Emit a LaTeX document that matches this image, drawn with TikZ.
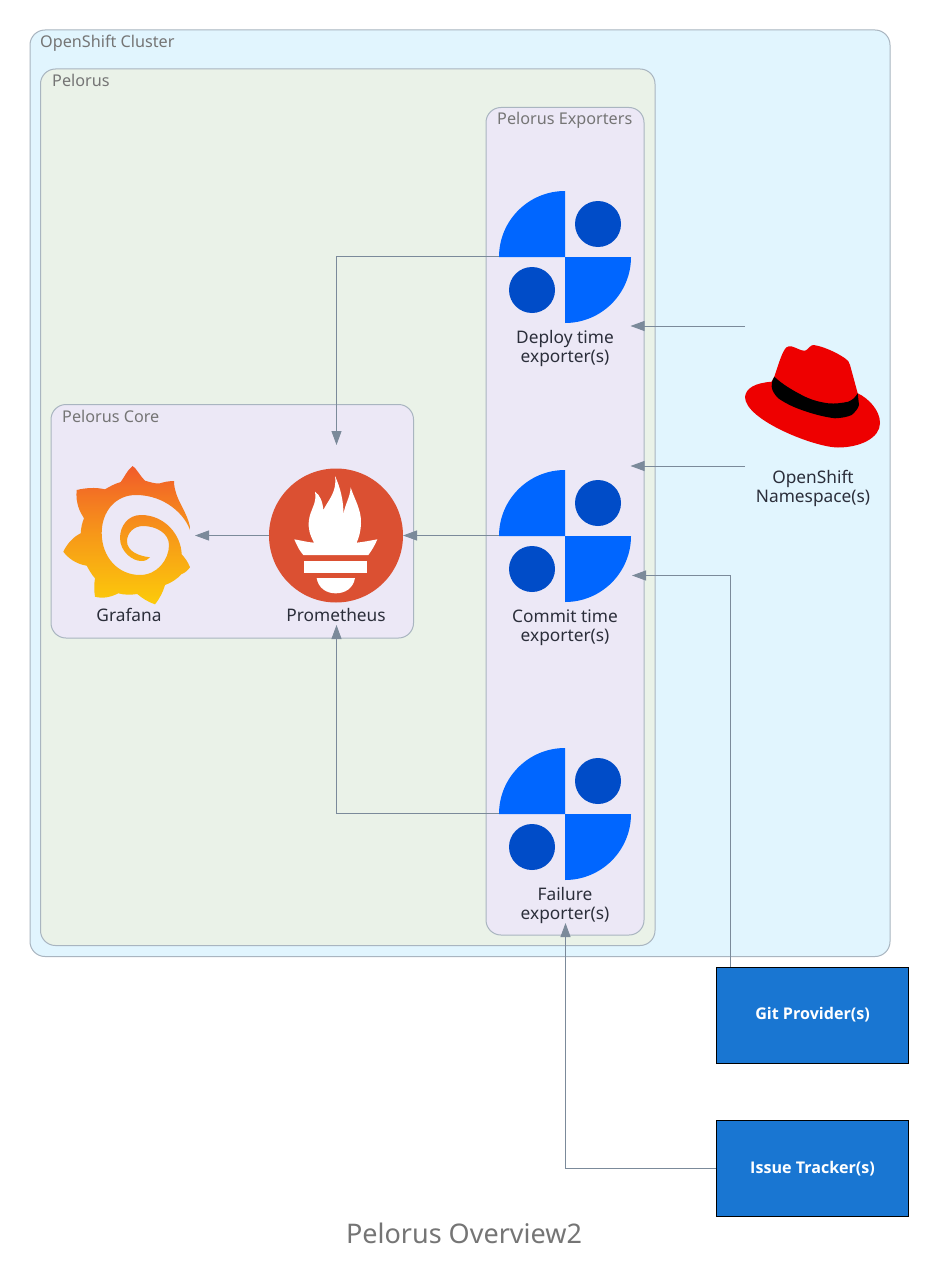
\documentclass[tikz,border=0pt]{standalone}
\usepackage{fontspec}
\setmainfont{Noto Sans}
\newfontfamily\boxfont{Open Sans}
\usetikzlibrary{arrows.meta,shapes.geometric}
\definecolor{clusterfill}{HTML}{E1F5FE}
\definecolor{peloruscol}{HTML}{EAF2E8}
\definecolor{lav}{HTML}{ECE8F6}
\definecolor{edgegrey}{HTML}{A9B5C0}
\definecolor{titlegrey}{HTML}{757575}
\definecolor{conn}{HTML}{7B8A9A}
\definecolor{txt}{HTML}{2B2E3A}
\definecolor{boxblue}{HTML}{1976D2}
\definecolor{qblue}{HTML}{0066FF}
\definecolor{dblue}{HTML}{004CC8}
\definecolor{promred}{HTML}{DB5032}
\definecolor{hatred}{HTML}{EE0000}
\definecolor{grafA}{HTML}{F15B2A}
\definecolor{grafB}{HTML}{FCCB0A}
\tikzset{
  x=1pt,y=-1pt,
  group/.style={draw=edgegrey,line width=1pt,rounded corners=15pt},
  grouplabel/.style={text=titlegrey,font=\fontsize{16.2}{19}\selectfont,anchor=base west,inner sep=0pt},
  iconlabel/.style={text=txt,font=\fontsize{17.3}{19}\selectfont,align=center,inner sep=0pt},
  anchorbox/.style={inner sep=0pt,outer sep=0pt,minimum size=132pt,rectangle},
  conline/.style={draw=conn,line width=1pt,-{Stealth[inset=0pt,length=14pt,width=10pt]}},
  extbox/.style={draw=black,line width=1pt,fill=boxblue,text=white,font=\boxfont\bfseries\fontsize{16.1}{18}\selectfont,minimum width=192pt,minimum height=96pt,inner sep=0pt},
}
\newcommand{\expicon}[2]{%
  \fill[qblue] (#1,#2) -- (#1-66,#2) arc[start angle=180,end angle=90,radius=66pt] -- cycle;
  \fill[qblue] (#1,#2) -- (#1+66,#2) arc[start angle=0,end angle=-90,radius=66pt] -- cycle;
  \fill[dblue] (#1+33,#2-33) circle[radius=23pt];
  \fill[dblue] (#1-33,#2+33) circle[radius=23pt];
}
\begin{document}
\begin{tikzpicture}
\useasboundingbox (0,0) rectangle (928,1276);
\fill[white] (0,0) rectangle (928,1276);
% groups
\path[group,fill=clusterfill] (30,30) rectangle (890,956.5);
\path[group,fill=peloruscol] (40.5,69) rectangle (655,945.5);
\path[group,fill=lav] (486,107.5) rectangle (644,935);
\path[group,fill=lav] (51,404.5) rectangle (413.5,638);
\node[grouplabel] (lcluster) at (40,48) {OpenShift Cluster};
\node[grouplabel] (lpelorus) at (52,86.5) {Pelorus};
\node[grouplabel] (lexp) at (497,125) {Pelorus Exporters};
\node[grouplabel] (lcore) at (62,422.5) {Pelorus Core};
% anchor nodes
\node[anchorbox] (deploy) at (564.5,256.5) {};
\node[anchorbox] (commit) at (564.5,535.5) {};
\node[anchorbox] (failure) at (564.5,813.5) {};
\node[circle,fill=promred,minimum size=134pt,inner sep=0pt,outer sep=0pt] (prom) at (336,535.5) {};
\node[rectangle,inner sep=0pt,outer sep=0pt,minimum width=132pt,minimum height=140pt] (graf) at (129,535.5) {};
\node[rectangle,inner sep=0pt,outer sep=0pt,minimum width=136pt,minimum height=140pt] (hat) at (813,396) {};
\node[extbox] (git) at (812.5,1015) {\raisebox{3pt}{Git Provider(s)}};
\node[extbox] (issue) at (812.5,1168.5) {\raisebox{3pt}{Issue Tracker(s)}};
\coordinate (promtop) at (336.5,445);
\coordinate (prombot) at (336.5,625);
\coordinate (gitport) at (730.5,967);
\coordinate (comin) at (632,575.5);
\coordinate (failin) at (565.5,923);
% connectors
\draw[conline] (deploy.west) -| (promtop);
\draw[conline] (commit.west) -- (prom.east);
\draw[conline] (failure.west) -| (prombot);
\draw[conline] (prom.west) -- (graf.east);
\draw[conline] (hat.north west) -- (deploy.east |- hat.north west);
\draw[conline] (hat.south west) -- (deploy.east |- hat.south west);
\draw[conline] (gitport) |- (comin);
\draw[conline] (issue.west) -| (failin);
% exporter icons
\expicon{565}{257}
\expicon{565}{536}
\expicon{565}{814}
% prometheus icon
\begin{scope}[shift={(260,460)},x=0.33333pt,y=-0.33333pt]
\fill[white] (103,238) .. controls (125,242) and (145,247) .. (162,248)
  .. controls (150,225) and (143,205) .. (147,180)
  .. controls (150,150) and (172,130) .. (165,95)
  .. controls (180,105) and (188,125) .. (190,150)
  .. controls (205,120) and (232,95) .. (225,48)
  .. controls (240,80) and (252,125) .. (250,165)
  .. controls (255,130) and (270,115) .. (272,82)
  .. controls (282,115) and (305,150) .. (303,190)
  .. controls (302,215) and (297,232) .. (290,248)
  .. controls (310,246) and (330,242) .. (352,238)
  .. controls (345,255) and (335,272) .. (325,285)
  -- (130,285) .. controls (118,272) and (110,255) .. (103,238) -- cycle;
\fill[white] (133,303) rectangle (322,338);
\fill[white] (170,354) -- (285,354) .. controls (280,385) and (255,400) .. (227,400)
  .. controls (200,400) and (175,385) .. (170,354) -- cycle;
\end{scope}
% grafana icon
\path[top color=grafA,bottom color=grafB,middle color=grafA!45!grafB,shading angle=0]
  (190.7,532.3) .. controls (190,518) and (180,505) .. (176.7,495)
  .. controls (175,490) and (174,486) .. (174,481)
  .. controls (169,481) and (164,482) .. (160,483.3)
  .. controls (155,484) and (150,482) .. (145,480.7)
  .. controls (140,476) and (137,469) .. (132.7,466)
  .. controls (127,470) and (124,478) .. (120.7,482)
  .. controls (114,484) and (109,487) .. (105,489.3)
  .. controls (95,487) and (85,488) .. (76.7,490)
  .. controls (76,498) and (77,502) .. (78.3,506.7)
  .. controls (80,512) and (82,515) .. (84,518.3)
  .. controls (82,523) and (81,528) .. (80.7,533.3)
  .. controls (73,537) and (67,544) .. (63.3,551.7)
  .. controls (68,558) and (76,564) .. (86.7,565.7)
  .. controls (89,570) and (92,575) .. (95,578.3)
  .. controls (94,584) and (94,591) .. (95,596.7)
  .. controls (103,599) and (111,597) .. (118.3,593.3)
  .. controls (124,595) and (131,595) .. (137.3,594)
  .. controls (142,598) and (148,602) .. (155,604.3)
  .. controls (160,598) and (163,592) .. (165,585)
  .. controls (171,583) and (177,579) .. (181.7,574)
  .. controls (185,573) and (188,570) .. (190,567.3)
  .. controls (188,562) and (185,558) .. (181.7,554.3)
  .. controls (181,535) and (165,515) .. (141,515)
  .. controls (128,515) and (120,526) .. (120,538)
  .. controls (120,552) and (133,561) .. (141,561)
  .. controls (145,561) and (148,560) .. (150,557.3)
  .. controls (138,556) and (127,551) .. (127,541)
  .. controls (127,533) and (134,526) .. (143,526)
  .. controls (156,526) and (169,533) .. (169,545)
  .. controls (169,560) and (157,575) .. (140,575)
  .. controls (118,575) and (101.7,557) .. (101.7,533)
  .. controls (101.7,512) and (115,495) .. (136,495)
  .. controls (165,495) and (186,515) .. (190.7,532.3) -- cycle;
% red hat
\fill[hatred] (745,397) .. controls (746,388) and (755,383) .. (771.7,381.7) -- (774.3,376.7)
  .. controls (778,366) and (781,355) .. (785,349)
  .. controls (787,346) and (790,346) .. (792,346.5)
  .. controls (797,348) and (801,351) .. (805,350.7)
  .. controls (808,350) and (810,345) .. (813.3,345)
  .. controls (822,346) and (836,352) .. (845,358.3)
  .. controls (848,360) and (849,362) .. (850,365)
  -- (857.7,393.3)
  .. controls (868,398) and (880,410) .. (880,423)
  .. controls (880,438) and (860,447.5) .. (838,447.5)
  .. controls (815,447.5) and (745,420) .. (745,397) -- cycle;
\fill[black] (774.3,376.7) .. controls (772,381) and (771,384) .. (771.7,386.7)
  .. controls (772,391) and (775,395) .. (778.3,398.3)
  .. controls (785,403) and (793,407) .. (801.7,410)
  .. controls (813,414) and (824,417) .. (835,418.3)
  .. controls (842,418) and (847,417) .. (851.7,415)
  .. controls (855,412) and (858,409) .. (859,405)
  -- (857.7,393.3)
  .. controls (855,398) and (852,400) .. (848.3,401.7)
  .. controls (842,403) and (835,404) .. (828.3,403.3)
  .. controls (818,402) and (809,399) .. (801.7,395)
  .. controls (792,390) and (782,384) .. (774.3,376.7) -- cycle;
% labels
\node[iconlabel] (tgraf) at (129,615) {Grafana};
\node[iconlabel] (tprom) at (336,615) {Prometheus};
\node[iconlabel] (tdep) at (565,348.5) {Deploy time\\exporter(s)};
\node[iconlabel] (tcom) at (565,627.5) {Commit time\\exporter(s)};
\node[iconlabel] (tfail) at (565,905.5) {Failure\\exporter(s)};
\node[iconlabel] (thn) at (813,488.5) {OpenShift\\Namespace(s)};
\node[text=titlegrey,font=\fontsize{27}{31}\selectfont,inner sep=0pt] (title) at (464,1233) {Pelorus Overview2};
\end{tikzpicture}
\end{document}
